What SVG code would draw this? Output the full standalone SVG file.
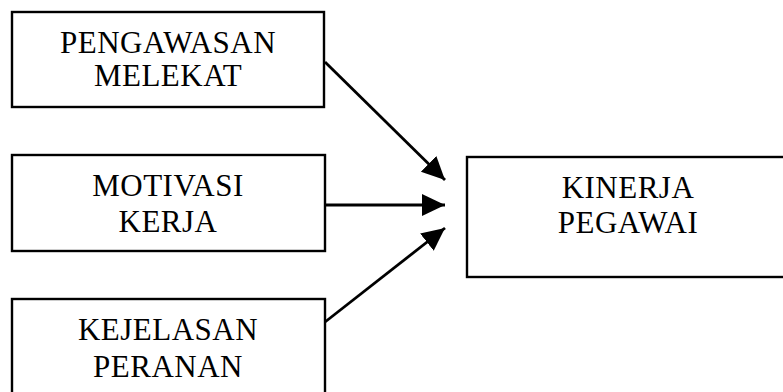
<svg xmlns="http://www.w3.org/2000/svg" width="783" height="392" viewBox="0 0 783 392">
<style>
.box{fill:#fff;stroke:#000;stroke-width:2.4}
.t{font-family:"Liberation Serif","Times New Roman",serif;font-size:31px;fill:#000;text-anchor:middle;letter-spacing:0.5px}
.c{stroke:#000;stroke-width:2.8;fill:none}
</style>
<defs>
<marker id="ah" markerUnits="userSpaceOnUse" markerWidth="26" markerHeight="24" refX="23" refY="11" orient="auto">
<path d="M0,0 L23,11 L0,22 Z" fill="#000"/>
</marker>
</defs>
<rect width="783" height="392" fill="#fff"/>
<g id="n1">
<rect class="box" x="12" y="12" width="312" height="95"/>
<text class="t" x="168" y="53">PENGAWASAN</text>
<text class="t" x="168" y="86">MELEKAT</text>
</g>
<g id="n2">
<rect class="box" x="12" y="155" width="313" height="96"/>
<text class="t" x="168" y="196">MOTIVASI</text>
<text class="t" x="168" y="232">KERJA</text>
</g>
<g id="n3">
<rect class="box" x="12" y="299" width="313" height="110"/>
<text class="t" x="168" y="340">KEJELASAN</text>
<text class="t" x="168" y="377">PERANAN</text>
</g>
<g id="n4">
<rect class="box" x="467" y="157" width="330" height="120"/>
<text class="t" x="628" y="198">KINERJA</text>
<text class="t" x="628" y="233">PEGAWAI</text>
</g>
<g id="connectors">
<line class="c" x1="325" y1="62" x2="445" y2="180" marker-end="url(#ah)"/>
<line class="c" x1="325" y1="205" x2="445" y2="205" marker-end="url(#ah)"/>
<line class="c" x1="325" y1="322" x2="445" y2="228" marker-end="url(#ah)"/>
</g>
</svg>
